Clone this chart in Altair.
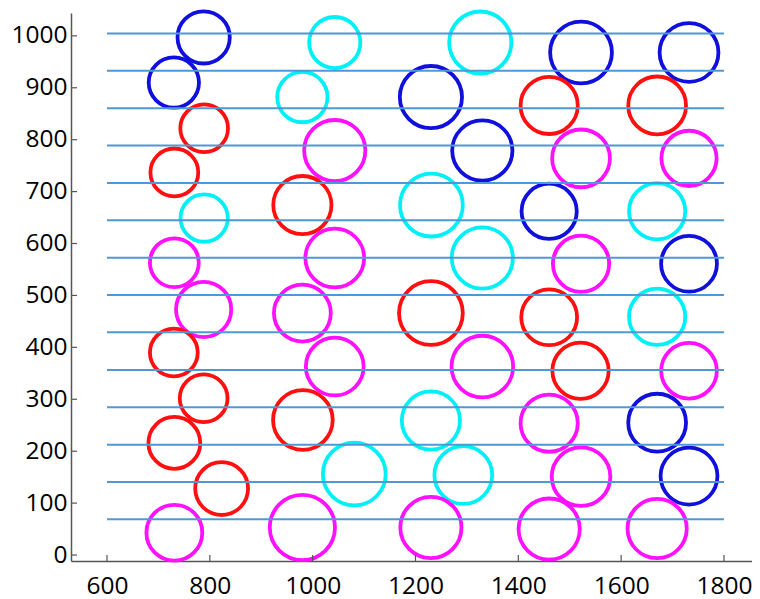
import altair as alt
import pandas as pd

# ---- data ----
cx = [788, 730, 789, 731, 789, 731, 788, 730, 788, 731, 823, 731,
      1043, 980, 1043, 980, 1043, 980, 1043, 981, 1081, 980,
      1326, 1230, 1330, 1231, 1330, 1230, 1330, 1230, 1293, 1230,
      1522, 1460, 1522, 1460, 1522, 1460, 1521, 1460, 1522, 1460,
      1732, 1670, 1732, 1670, 1732, 1670, 1732, 1670, 1732, 1670]
cy = [997, 910, 822, 737, 649, 563, 473, 390, 302, 216, 128, 43,
      987, 882, 779, 674, 572, 466, 363, 260, 156, 53,
      987, 882, 779, 674, 572, 466, 363, 259, 154, 53,
      968, 866, 764, 662, 561, 458, 355, 254, 151, 50,
      968, 866, 764, 662, 561, 459, 355, 255, 152, 51]
radius = [50.8, 48.9, 46.4, 46.5, 46.0, 47.5, 53.7, 46.5, 46.5, 50.4, 51.4, 54.3,
          49.8, 48.9, 59.5, 56.6, 57.2, 55.3, 56.2, 58.0, 61.1, 63.4,
          60.5, 60.5, 58.6, 61.1, 59.5, 62.0, 59.9, 56.6, 56.2, 59.5,
          60.1, 55.6, 56.2, 53.7, 54.7, 54.3, 54.7, 55.6, 57.0, 59.5,
          57.2, 56.2, 53.7, 54.7, 54.3, 54.7, 54.1, 56.2, 55.3, 57.6]
colour = ["blue", "blue", "red", "red", "cyan", "magenta", "magenta", "red", "red", "red", "red", "magenta",
          "cyan", "cyan", "magenta", "red", "magenta", "magenta", "magenta", "red", "cyan", "magenta",
          "cyan", "blue", "blue", "cyan", "cyan", "red", "magenta", "cyan", "cyan", "magenta",
          "blue", "red", "magenta", "blue", "magenta", "red", "red", "magenta", "magenta", "magenta",
          "blue", "red", "magenta", "cyan", "blue", "cyan", "magenta", "blue", "blue", "magenta"]

line_y = [68.8, 140.7, 212.5, 284.6, 356.5, 429.1, 501.0, 572.8, 644.9, 716.8, 788.6, 860.7, 932.6, 1004.4]
line_x_start = 600
line_x_end = 1800

x_ticks = [600, 800, 1000, 1200, 1400, 1600, 1800]
y_ticks = [0, 100, 200, 300, 400, 500, 600, 700, 800, 900, 1000]

# ---- layout ----
W, H = 681, 548
X_DOM = [530, 1854.5]
Y_DOM = [-11.5, 1044]
K = W / (X_DOM[1] - X_DOM[0])

circles = pd.DataFrame({"x": cx, "y": cy, "r": radius, "c": colour})
lines = pd.DataFrame({"y": line_y, "x1": [line_x_start] * len(line_y), "x2": [line_x_end] * len(line_y)})
xt = pd.DataFrame({"t": x_ticks})
yt = pd.DataFrame({"t": y_ticks})

xs = alt.Scale(domain=X_DOM, nice=False, zero=False)
ys = alt.Scale(domain=Y_DOM, nice=False, zero=False)

font = "Open Sans"

x_axis = alt.Axis(values=x_ticks, format="d", title=None, grid=False, ticks=False, tickSize=0,
                  domainColor="#555555", domainWidth=1.5, labelFont=font, labelFontSize=24.5,
                  labelColor="#000000", labelPadding=13, labelFlush=False)
y_axis = alt.Axis(values=y_ticks, format="d", title=None, grid=False, ticks=False, tickSize=0,
                  domainColor="#555555", domainWidth=1.5, labelFont=font, labelFontSize=24.5,
                  labelColor="#000000", labelPadding=4, labelFlush=False)

circ = alt.Chart(circles).transform_calculate(
    s=f"pow(2*datum.r*{K}, 2)"
).mark_point(shape="circle", filled=False, strokeWidth=3.8, opacity=1).encode(
    x=alt.X("x:Q", scale=xs, axis=x_axis),
    y=alt.Y("y:Q", scale=ys, axis=y_axis),
    size=alt.Size("s:Q", scale=None, legend=None),
    color=alt.Color("c:N", legend=None, scale=alt.Scale(
        domain=["blue", "red", "cyan", "magenta"],
        range=["#1010dd", "#ff1010", "#00f0f8", "#ff10ff"])),
)

hl = alt.Chart(lines).mark_rule(color="#4f98d6", strokeWidth=2).encode(
    x=alt.X("x1:Q", scale=xs),
    x2="x2:Q",
    y=alt.Y("y:Q", scale=ys),
)

xtick = alt.Chart(xt).mark_rule(color="#555555", strokeWidth=1.2).encode(
    x=alt.X("t:Q", scale=xs),
    y=alt.value(H),
    y2=alt.value(H - 6),
)
ytick = alt.Chart(yt).mark_rule(color="#555555", strokeWidth=1.2).encode(
    y=alt.Y("t:Q", scale=ys),
    x=alt.value(0),
    x2=alt.value(6),
)

chart = alt.layer(circ, hl, xtick, ytick).properties(
    width=W, height=H,
    autosize=alt.AutoSizeParams(type="none"),
    padding={"left": 63, "top": 5, "right": 0, "bottom": 38},
).configure(background="white", view=alt.ViewConfig(stroke="transparent", strokeWidth=0))

chart.save("out.html", embed_options={"renderer": "svg", "actions": False})
